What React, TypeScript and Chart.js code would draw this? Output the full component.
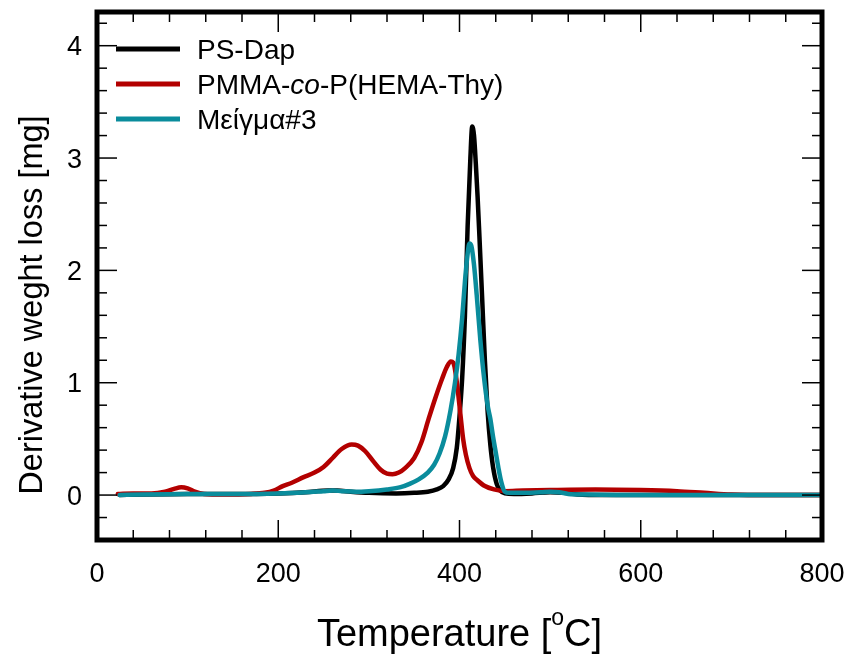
import React, { useEffect, useRef } from "react";
import { Chart, registerables } from "chart.js";

Chart.register(...registerables);

// Temperature (°C) and derivative weight loss (mg) for each sample
const psDapTemp = [25, 50, 100, 150, 200, 230, 255, 265, 280, 300, 330, 350, 365, 375, 382, 388, 393, 397, 400, 403, 406, 409, 412, 414, 416, 418, 420, 422, 425, 428, 431, 434, 437, 441, 445, 450, 460, 480, 500, 515, 530, 560, 600, 700, 800];
const psDapDeriv = [0.0, 0.005, 0.01, 0.01, 0.015, 0.025, 0.04, 0.04, 0.03, 0.02, 0.015, 0.02, 0.03, 0.05, 0.08, 0.14, 0.24, 0.42, 0.7, 1.05, 1.6, 2.4, 3.0, 3.28, 3.2, 2.95, 2.65, 2.3, 1.75, 1.2, 0.75, 0.45, 0.25, 0.1, 0.04, 0.015, 0.01, 0.015, 0.025, 0.02, 0.005, 0, 0, 0, 0];

const pmmaTemp = [23, 40, 60, 75, 85, 93, 100, 108, 118, 140, 170, 185, 195, 205, 215, 228, 240, 250, 260, 270, 281, 288, 296, 305, 313, 320, 326, 333, 340, 350, 358, 366, 374, 381, 386, 390.5, 393, 395, 398, 401, 404, 407, 411, 415, 420, 428, 438, 450, 470, 500, 550, 600, 640, 670, 700, 740, 800];
const pmmaDeriv = [0.01, 0.015, 0.015, 0.03, 0.055, 0.07, 0.06, 0.03, 0.01, 0.005, 0.01, 0.02, 0.04, 0.08, 0.11, 0.16, 0.2, 0.25, 0.33, 0.41, 0.45, 0.44, 0.39, 0.3, 0.225, 0.19, 0.185, 0.2, 0.24, 0.33, 0.47, 0.68, 0.88, 1.04, 1.14, 1.19, 1.18, 1.12, 0.94, 0.72, 0.5, 0.36, 0.24, 0.17, 0.13, 0.08, 0.05, 0.035, 0.04, 0.045, 0.05, 0.045, 0.035, 0.02, 0.005, 0, 0];

const blendTemp = [25, 50, 100, 150, 200, 230, 250, 260, 270, 285, 300, 320, 335, 345, 355, 365, 372, 378, 384, 390, 395, 399, 403, 406, 409, 411, 413, 416, 419, 423, 427, 431, 434, 437, 440, 443, 446, 450, 455, 470, 490, 500, 510, 520, 540, 600, 700, 800];
const blendDeriv = [0.0, 0.005, 0.01, 0.01, 0.015, 0.025, 0.035, 0.04, 0.035, 0.03, 0.035, 0.05, 0.07, 0.1, 0.14, 0.2, 0.27, 0.37, 0.52, 0.75, 1.0, 1.25, 1.58, 1.9, 2.15, 2.24, 2.22, 2.05, 1.78, 1.38, 1.05, 0.8, 0.68, 0.52, 0.38, 0.24, 0.12, 0.03, 0.02, 0.02, 0.025, 0.03, 0.025, 0.01, 0.005, 0, 0, 0];

const xTickValues = [0, 200, 400, 600, 800];
const yTickValues = [0, 1, 2, 3, 4];

// legend labels as [text, italic] runs
const psDapLabel: [string, boolean][] = [["PS-Dap", false]];
const pmmaLabel: [string, boolean][] = [["PMMA-", false], ["co", true], ["-P(HEMA-Thy)", false]];
const blendLabel: [string, boolean][] = [["Μείγμα#3", false]];

const xTitleParts = ["Temperature [", "o", "C]"];
const yTitle = "Derivative weght loss [mg]";

const COLORS = { psDap: "#000000", pmma: "#b30000", blend: "#0a8c9c" };
const FONT = "Arial, 'Liberation Sans', Helvetica, sans-serif";

const toPoints = (xs: number[], ys: number[]) => xs.map((x, i) => ({ x, y: ys[i] }));

const decorPlugin = {
  id: "tgaDecor",
  afterDraw(chart: any) {
    const { ctx, chartArea: a, scales } = chart;
    const xs = scales.x;
    const ys = scales.y;
    ctx.save();
    ctx.strokeStyle = "#000";
    ctx.fillStyle = "#000";
    ctx.lineCap = "butt";

    const seg = (x1: number, y1: number, x2: number, y2: number) => {
      ctx.beginPath();
      ctx.moveTo(x1, y1);
      ctx.lineTo(x2, y2);
      ctx.stroke();
    };

    // inward tick marks on all four sides
    ctx.lineWidth = 1.5;
    for (let i = 0; i <= 20; i++) {
      const px = xs.getPixelForValue(i * 40);
      const len = i % 5 === 0 ? 20 : 10;
      seg(px, a.bottom, px, a.bottom - len);
      seg(px, a.top, px, a.top + len);
    }
    for (let i = -2; i <= 21; i++) {
      const py = ys.getPixelForValue(i * 0.2);
      const len = i % 5 === 0 ? 20 : 10;
      seg(a.left, py, a.left + len, py);
      seg(a.right, py, a.right - len, py);
    }

    // heavy frame
    ctx.lineWidth = 5;
    ctx.strokeRect(a.left, a.top, a.right - a.left, a.bottom - a.top);

    // tick labels
    ctx.font = `27px ${FONT}`;
    ctx.textBaseline = "alphabetic";
    ctx.textAlign = "center";
    xTickValues.forEach((v) => {
      ctx.fillText(String(v), xs.getPixelForValue(v), 582);
    });
    ctx.textAlign = "right";
    yTickValues.forEach((v) => {
      ctx.fillText(String(v), 82, ys.getPixelForValue(v) + 9.7);
    });

    // x title with superscript degree "o"
    const bigFont = `38px ${FONT}`;
    const supFont = `23px ${FONT}`;
    ctx.textAlign = "left";
    ctx.font = bigFont;
    const w1 = ctx.measureText(xTitleParts[0]).width;
    const w3 = ctx.measureText(xTitleParts[2]).width;
    ctx.font = supFont;
    const w2 = ctx.measureText(xTitleParts[1]).width;
    const total = w1 + w2 + w3;
    let tx = (a.left + a.right) / 2 - total / 2;
    const base = 646;
    ctx.font = bigFont;
    ctx.fillText(xTitleParts[0], tx, base);
    tx += w1;
    ctx.font = supFont;
    ctx.fillText(xTitleParts[1], tx, base - 21);
    tx += w2;
    ctx.font = bigFont;
    ctx.fillText(xTitleParts[2], tx, base);

    // y title
    ctx.save();
    ctx.translate(42, 305);
    ctx.rotate(-Math.PI / 2);
    ctx.textAlign = "center";
    ctx.font = `32.5px ${FONT}`;
    ctx.fillText(yTitle, 0, 0);
    ctx.restore();

    // legend
    const rows: [string, [string, boolean][]][] = [
      [COLORS.psDap, psDapLabel],
      [COLORS.pmma, pmmaLabel],
      [COLORS.blend, blendLabel],
    ];
    rows.forEach(([color, runs], i) => {
      const ly = 49 + i * 35;
      ctx.strokeStyle = color;
      ctx.lineWidth = 5;
      seg(116, ly, 180, ly);
      let lx = 197;
      ctx.textAlign = "left";
      runs.forEach(([text, italic]) => {
        ctx.font = `${italic ? "italic " : ""}28px ${FONT}`;
        ctx.fillText(text, lx, ly + 10);
        lx += ctx.measureText(text).width;
      });
    });

    ctx.restore();
  },
};

export default function App() {
  const canvasRef = useRef<HTMLCanvasElement | null>(null);

  useEffect(() => {
    const canvas = canvasRef.current;
    if (!canvas) return;
    const lineStyle = {
      borderWidth: 4.5,
      pointRadius: 0,
      cubicInterpolationMode: "monotone" as const,
      borderJoinStyle: "round" as const,
      borderCapStyle: "round" as const,
      fill: false,
    };
    const chart = new Chart(canvas, {
      type: "line",
      data: {
        datasets: [
          { label: "PS-Dap", data: toPoints(psDapTemp, psDapDeriv), borderColor: COLORS.psDap, order: 3, ...lineStyle },
          { label: "PMMA-co-P(HEMA-Thy)", data: toPoints(pmmaTemp, pmmaDeriv), borderColor: COLORS.pmma, order: 2, ...lineStyle },
          { label: "Μείγμα#3", data: toPoints(blendTemp, blendDeriv), borderColor: COLORS.blend, order: 1, ...lineStyle },
        ],
      },
      options: {
        responsive: false,
        animation: false,
        events: [],
        layout: { padding: { left: 0, right: 30, top: 12, bottom: 0 } },
        plugins: { legend: { display: false }, tooltip: { enabled: false } },
        scales: {
          x: {
            type: "linear",
            min: 0,
            max: 800,
            grid: { display: false },
            border: { display: false },
            ticks: { display: false },
            afterFit: (s: any) => { s.height = 117; },
          },
          y: {
            type: "linear",
            min: -0.4,
            max: 4.3,
            grid: { display: false },
            border: { display: false },
            ticks: { display: false },
            afterFit: (s: any) => { s.width = 97; },
          },
        },
      },
      plugins: [decorPlugin],
    });
    return () => chart.destroy();
  }, []);

  return (
    <div style={{ position: "fixed", left: 0, top: 0, width: 852, height: 657, background: "#fff" }}>
      <canvas ref={canvasRef} width={852} height={657} style={{ display: "block", width: 852, height: 657 }} />
    </div>
  );
}
